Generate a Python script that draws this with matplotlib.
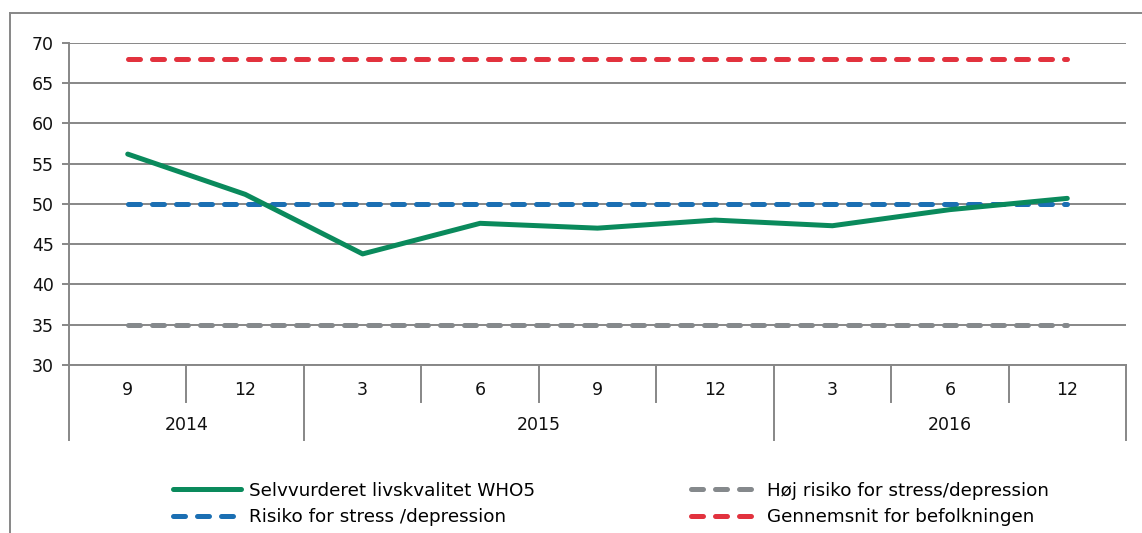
import numpy as np
import matplotlib
matplotlib.use('Agg')
import matplotlib.pyplot as plt
from matplotlib.lines import Line2D

plt.rcParams['font.family'] = ['DejaVu Sans']

months = ['9', '12', '3', '6', '9', '12', '3', '6', '12']
years = ['2014', '2015', '2016']
year_sizes = [2, 4, 3]

who5 = [56.2, 51.2, 43.8, 47.6, 47.0, 48.0, 47.3, 49.3, 50.7]
risk = [50] * 9
high_risk = [35] * 9
population = [68] * 9

GRID = '#878787'
FS = 12.5
LFS = 13.2

fig = plt.figure(figsize=(11.42, 5.33), dpi=100)
ax = fig.add_axes([69 / 1142, 1 - 365 / 533, (1126 - 69) / 1142, (365 - 43) / 533])

x = np.arange(len(months))
dash = dict(lw=3.6, dashes=(2.4, 2.4), dash_capstyle='round')
ax.plot(x, high_risk, color='#85898C', label='Høj risiko for stress/depression', **dash)
ax.plot(x, risk, color='#1B6FB3', label='Risiko for stress /depression', **dash)
ax.plot(x, population, color='#E2323E', label='Gennemsnit for befolkningen', **dash)
ax.plot(x, who5, color='#0A8A5C', lw=3.6, solid_capstyle='round', label='Selvvurderet livskvalitet WHO5')

ax.set_xlim(-0.5, len(months) - 0.5)
ax.set_ylim(30, 70)
ax.set_yticks(range(30, 71, 5))
ax.yaxis.grid(True, color=GRID, lw=1.4)
ax.set_axisbelow(True)
for s in ['top', 'right']:
    ax.spines[s].set_visible(False)
for s in ['left', 'bottom']:
    ax.spines[s].set_color(GRID)
    ax.spines[s].set_linewidth(1.4)
ax.tick_params(axis='y', length=5, width=1.4, color=GRID, labelsize=FS, pad=6, labelcolor='#111111')
ax.set_xticks([])

# two-level category axis
trans = ax.get_xaxis_transform()
bounds = np.cumsum([0] + year_sizes) - 0.5
for i in range(len(months) - 1):
    xb = i + 0.5
    ln = 0.233 if xb in bounds else 0.115
    ax.plot([xb, xb], [0, -ln], color=GRID, lw=1.4, transform=trans, clip_on=False)
for xb in [bounds[0], bounds[-1]]:
    ax.plot([xb, xb], [0, -0.233], color=GRID, lw=1.4, transform=trans, clip_on=False)
for i, m in enumerate(months):
    ax.text(i, -0.078, m, transform=trans, ha='center', va='center', fontsize=FS, color='#111111')
for j, yr in enumerate(years):
    ax.text((bounds[j] + bounds[j + 1]) / 2, -0.186, yr, transform=trans, ha='center', va='center',
            fontsize=FS, color='#111111')

# outer chart border (cut off at right and bottom)
fig.add_artist(Line2D([10 / 1142, 1], [1 - 13 / 533, 1 - 13 / 533], color=GRID, lw=1.4))
fig.add_artist(Line2D([10 / 1142, 10 / 1142], [0, 1 - 13 / 533], color=GRID, lw=1.4))

h, l = ax.get_legend_handles_labels()
order = [3, 1, 0, 2]
fig.legend([h[i] for i in order], [l[i] for i in order], ncol=2, frameon=False,
           loc='center left', bbox_to_anchor=(164 / 1142, 1 - 504 / 533),
           fontsize=LFS, handlelength=3.7, handletextpad=0.45, columnspacing=8.5,
           labelspacing=0.45, borderpad=0)

fig.savefig('out.png', dpi=100)
